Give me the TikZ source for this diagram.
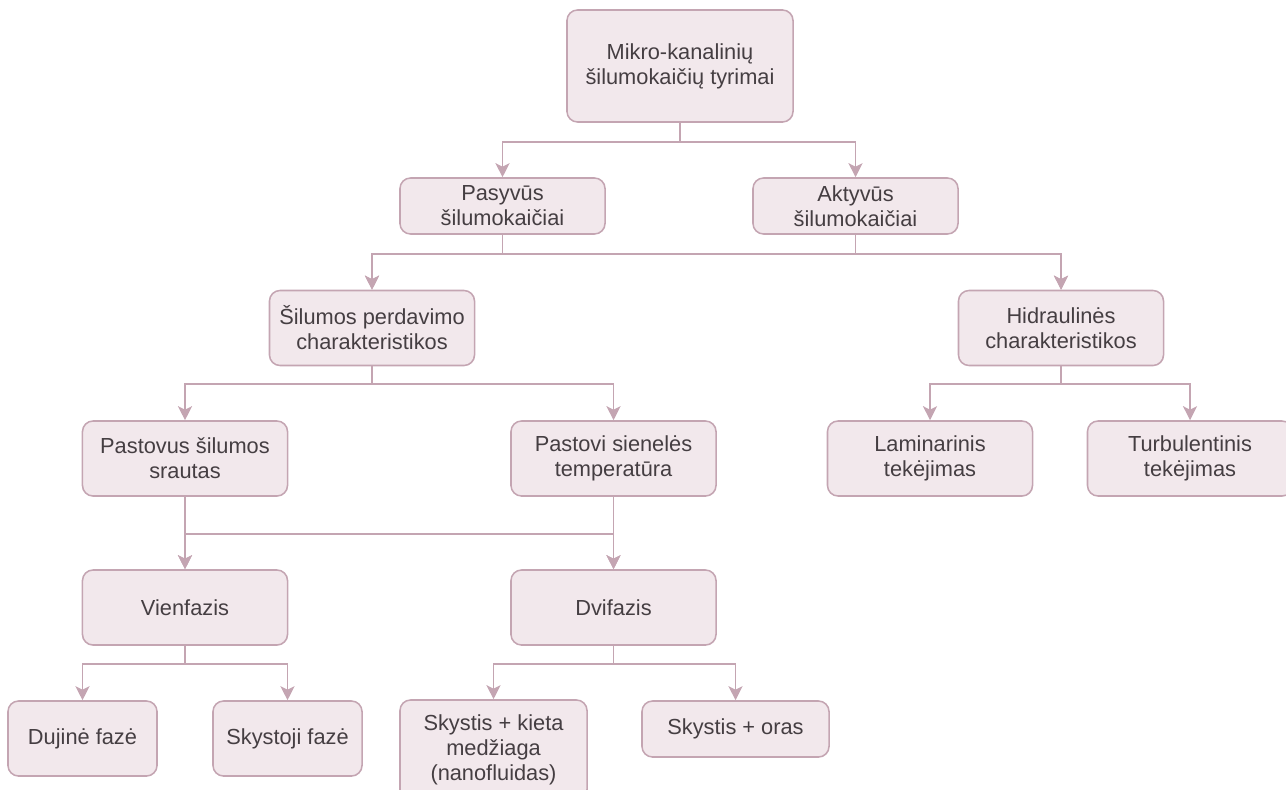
\documentclass[tikz,border=0pt]{standalone}
\usepackage{fontspec}
\setmainfont{Liberation Sans}
\usetikzlibrary{arrows.meta, positioning}
\definecolor{boxfill}{HTML}{F2E8EC}
\definecolor{boxline}{HTML}{C4A5B2}
\definecolor{txtgray}{HTML}{453E42}

\begin{document}
\begin{tikzpicture}[
    x=0.025cm, y=-0.025cm,
    box/.style={
        draw=boxline, fill=boxfill, rounded corners=7.5pt,
        line width=1.1pt, minimum width=5.125cm, minimum height=1.875cm,
        align=center, inner sep=0pt, text=txtgray,
        font=\fontsize{15.5}{17.7}\selectfont
    },
    link/.style={
        -{Stealth[length=10pt, width=10pt, inset=2.5pt]},
        draw=boxline, line width=1.1pt
    },
    >=Stealth
]
\useasboundingbox (0,0) rectangle (1286,789);

% ===== Level 0-1 =====
\node[box, minimum width=5.65cm, minimum height=2.8cm] (root) at (680,66) {Mikro-kanalinių\\šilumokaičių tyrimai};
\node[box, minimum height=1.4cm] (pas) at (502.5,206) {Pasyvūs\\šilumokaičiai};
\node[box, minimum height=1.4cm] (akt) at (855.5,206) {Aktyvūs\\šilumokaičiai};

% ===== Level 2-3 =====
\node[box] (silum) at (372,328) {Šilumos perdavimo\\charakteristikos};
\node[box] (hidr) at (1061,328) {Hidraulinės\\charakteristikos};
\node[box] (pastovus) at (185,458.5) {Pastovus šilumos\\srautas};
\node[box] (pastovi) at (613.5,458.5) {Pastovi sienelės\\temperatūra};
\node[box] (lamin) at (930,458.5) {Laminarinis\\tekėjimas};
\node[box] (turb) at (1190,458.5) {Turbulentinis\\tekėjimas};

% ===== Level 4-5 =====
\node[box] (vien) at (185,607.5) {Vienfazis};
\node[box] (dvi) at (613.5,607.5) {Dvifazis};
\node[box, minimum width=3.725cm] (dujine) at (82.5,738.5) {Dujinė fazė};
\node[box, minimum width=3.725cm] (skystoji) at (287.5,738.5) {Skystoji fazė};
\node[box, minimum width=4.675cm, minimum height=2.5cm] (nano) at (493.5,750) {Skystis + kieta\\medžiaga\\(nanofluidas)};
\node[box, minimum width=4.675cm, minimum height=1.4cm] (oras) at (735.5,729) {Skystis + oras};

% Elbow connectors
\foreach \i/\j in {root/pas, root/akt} {
    \draw[link] (\i.south) -- ++(0,19) -| (\j.north);
}
\foreach \i/\j in {pas/silum, pas/hidr, akt/silum, akt/hidr} {
    \draw[link] (\i.south) -- ++(0,19) -| (\j.north);
}
\foreach \i/\j in {silum/pastovus, silum/pastovi, hidr/lamin, hidr/turb} {
    \draw[link] (\i.south) -- ++(0,17.5) -| (\j.north);
}
\foreach \i/\j in {pastovus/vien, pastovus/dvi, pastovi/vien, pastovi/dvi} {
    \draw[link] (\i.south) -- ++(0,37) -| (\j.north);
}
\foreach \i/\j in {vien/dujine, vien/skystoji, dvi/nano, dvi/oras} {
    \draw[link] (\i.south) -- ++(0,18) -| (\j.north);
}

\end{tikzpicture}
\end{document}
